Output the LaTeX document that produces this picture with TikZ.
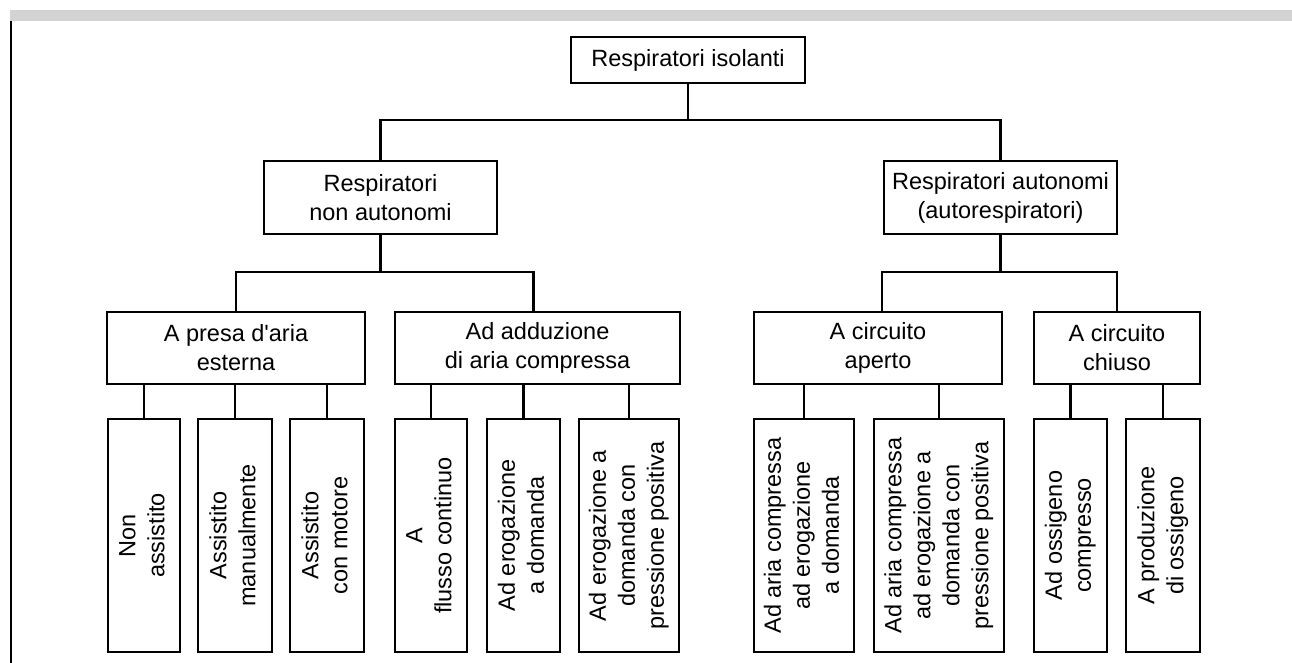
\documentclass[tikz,border=0pt]{standalone}
\usepackage{fontspec}
\setmainfont{Liberation Sans}[Ligatures=TeXOff]
\definecolor{barcol}{RGB}{211,211,209}
\newcommand{\uptext}[1]{\rotatebox{90}{\begin{tabular}{@{}c@{}}#1\end{tabular}}}

\begin{document}
\begin{tikzpicture}[x=1pt, y=-1pt,
  every node/.style={font=\fontsize{23.5}{29}\selectfont},
  box/.style={draw, line width=2.3pt, inner sep=0pt, align=center},
  topbox/.style={box, minimum height=73},
  midbox/.style={box, minimum height=72},
  leafbox/.style={box, minimum height=233},
  line/.style={line width=2.3pt}]
  \useasboundingbox (0,0) rectangle (1292,663);
  \fill[barcol] (10,10) rectangle (1292,21);
  \draw[line width=2pt] (10.7,21) -- (10.7,663);

  \node[box, minimum width=234, minimum height=46] (ri) at (688,60) {Respiratori isolanti};
  \node[topbox, minimum width=233] (rna) at (380.5,197.5) {Respiratori\\non autonomi};
  \node[topbox, minimum width=233] (ra) at (1000.5,197.5) {Respiratori autonomi\\(autorespiratori)};

  \node[midbox, minimum width=258] (pae) at (236,348) {A presa d'aria\\esterna};
  \node[midbox, minimum width=285] (aac) at (537.5,348) {Ad adduzione\\di aria compressa};
  \node[midbox, minimum width=248] (cap) at (878,348) {A circuito\\aperto};
  \node[midbox, minimum width=166] (cch) at (1117,348) {A circuito\\chiuso};

  \node[leafbox, minimum width=72] (nas) at (144,535.5) {\uptext{Non\\assistito}};
  \node[leafbox, minimum width=74] (asm) at (235,535.5) {\uptext{Assistito\\manualmente}};
  \node[leafbox, minimum width=74] (asc) at (327,535.5) {\uptext{Assistito\\con motore}};
  \node[leafbox, minimum width=72] (afc) at (431,535.5) {\uptext{A\\flusso continuo}};
  \node[leafbox, minimum width=73] (aed) at (523.5,535.5) {\uptext{Ad erogazione\\a domanda}};
  \node[leafbox, minimum width=100] (aep) at (629,535.5) {\uptext{Ad erogazione a\\domanda con\\pressione positiva}};
  \node[leafbox, minimum width=100] (acd) at (804,535.5) {\uptext{Ad aria compressa\\ad erogazione\\a domanda}};
  \node[leafbox, minimum width=130] (acp) at (939,535.5) {\uptext{Ad aria compressa\\ad erogazione a\\domanda con\\pressione positiva}};
  \node[leafbox, minimum width=73] (aoc) at (1070.5,535.5) {\uptext{Ad ossigeno\\compresso}};
  \node[leafbox, minimum width=74] (apo) at (1163,535.5) {\uptext{A produzione\\di ossigeno}};

  \draw[line] (ri.south) -- ++(0,36) -| (rna.north);
  \draw[line] (ri.south) -- ++(0,36) -| (ra.north);
  \draw[line] (rna.south) -- ++(0,37) -| (pae.north);
  \draw[line] (rna.south) -- ++(0,37) -| ([xshift=-4pt]aac.north);
  \draw[line] (ra.south) -- ++(0,37) -| ([xshift=4pt]cap.north);
  \draw[line] (ra.south) -- ++(0,37) -| (cch.north);
  \foreach \p/\c in {pae/nas, pae/asm, pae/asc, aac/afc, aac/aed, aac/aep,
                     cap/acd, cap/acp, cch/aoc, cch/apo}
    \draw[line] (\p.south -| \c.north) -- (\c.north);
\end{tikzpicture}
\end{document}
